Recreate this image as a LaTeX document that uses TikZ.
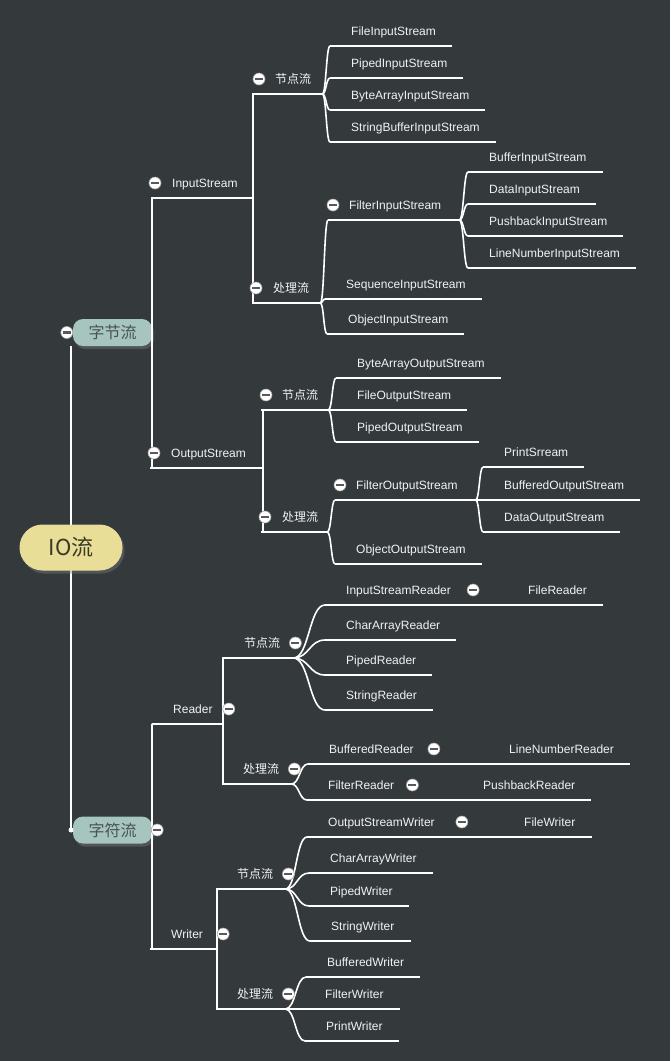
\documentclass[tikz,border=0pt]{standalone}
\usepackage{fontspec}
\setmainfont{Liberation Sans}
\newfontfamily\cjk{Noto Sans CJK SC}
\usetikzlibrary{calc,shadows}

\definecolor{canvas}{HTML}{34393C}
\definecolor{ink}{HTML}{F2F2F2}
\definecolor{rootfill}{HTML}{E9DE97}
\definecolor{rootink}{HTML}{3A3A28}
\definecolor{mainfill}{HTML}{A5C5BE}
\definecolor{mainink}{HTML}{4A5252}

\tikzset{
  wire/.style={draw=white, line width=1.6pt},
  topic/.style={text=ink, font=\fontsize{12}{14}\selectfont, inner sep=0pt, anchor=base west, yshift=-4.3pt},
  zh/.style={topic, font=\cjk\fontsize{12}{14}\selectfont},
  branch/.style={wire, to path={let \p1=(\tikztostart), \p2=(\tikztotarget), \n1={(\x2-\x1)/2} in
    .. controls (\x1+\n1*1pt,\y1) and (\x2-\n1*1pt,\y2) .. (\tikztotarget)}},
  fold/.style={circle, fill=white, draw=gray!70, line width=0.6pt, minimum size=12pt, inner sep=0pt,
    path picture={\draw[line width=2.2pt, draw=black!65] ([xshift=-4pt]path picture bounding box.center) -- ([xshift=4pt]path picture bounding box.center);}},
  pill/.style={rounded corners=10pt, fill=mainfill, text=mainink, minimum width=79pt, minimum height=27pt, inner sep=0pt,
    font=\cjk\fontsize{16}{18}\selectfont, drop shadow={shadow xshift=2pt, shadow yshift=-3pt, opacity=.4}},
  rootpill/.style={pill, fill=rootfill, text=rootink, rounded corners=23pt, minimum width=103pt, minimum height=46pt,
    font=\cjk\fontsize{22}{26}\selectfont}
}

\begin{document}
\begin{tikzpicture}[x=1pt, y=-1pt]
  \useasboundingbox (0,0) rectangle (670,1061);
  \fill[canvas] (0,0) rectangle (670,1061);

  % main branches
  \node[pill] (zjl) at (112.5,332.5) {字节流};
  \node[pill] (zfl) at (112.5,830) {字符流};
  \coordinate (axis) at (71,547.5);
  \draw[wire, line width=2.2pt] (zjl.south west -| axis) -- (zfl.west -| axis);
  \fill[white] (zfl.west -| axis) circle (2.5pt);
  \node[rootpill] (io) at (axis) {IO流};

  % InputStream
  \node[topic] (is) at (172,183) {InputStream};
  \node[zh] (jd1) at (275,79) {节点流};
  \node[topic] (fis) at (351,31) {FileInputStream};
  \node[topic] (pis) at (351,63) {PipedInputStream};
  \node[topic] (bais) at (351,95) {ByteArrayInputStream};
  \node[topic] (sbis) at (351,127) {StringBufferInputStream};
  \node[zh] (cl1) at (273,288) {处理流};
  \node[topic] (filis) at (349,205) {FilterInputStream};
  \node[topic] (bis) at (489,157) {BufferInputStream};
  \node[topic] (dis) at (489,189) {DataInputStream};
  \node[topic] (pbis) at (489,221) {PushbackInputStream};
  \node[topic] (lnis) at (489,253) {LineNumberInputStream};
  \node[topic] (seqis) at (346,284) {SequenceInputStream};
  \node[topic] (ois) at (348,319) {ObjectInputStream};

  % OutputStream
  \node[topic] (os) at (171,453) {OutputStream};
  \node[zh] (jd2) at (282,395) {节点流};
  \node[topic] (baos) at (357,363) {ByteArrayOutputStream};
  \node[topic] (fos) at (357,395) {FileOutputStream};
  \node[topic] (pos) at (357,427) {PipedOutputStream};
  \node[zh] (cl2) at (282,517) {处理流};
  \node[topic] (filos) at (356,485) {FilterOutputStream};
  \node[topic] (prs) at (504,452) {PrintSrream};
  \node[topic] (bos) at (504,485) {BufferedOutputStream};
  \node[topic] (dos) at (504,517) {DataOutputStream};
  \node[topic] (oos) at (356,549) {ObjectOutputStream};

  % Reader
  \node[topic] (rd) at (173,709) {Reader};
  \node[zh] (jd3) at (244,643) {节点流};
  \node[topic] (isr) at (346,590) {InputStreamReader};
  \node[topic] (fr) at (528,590) {FileReader};
  \node[topic] (car) at (346,625) {CharArrayReader};
  \node[topic] (pr) at (346,660) {PipedReader};
  \node[topic] (sr) at (346,695) {StringReader};
  \node[zh] (cl3) at (243,769) {处理流};
  \node[topic] (br) at (329,749) {BufferedReader};
  \node[topic] (lnr) at (509,749) {LineNumberReader};
  \node[topic] (fir) at (328,785) {FilterReader};
  \node[topic] (pbr) at (483,785) {PushbackReader};

  % Writer
  \node[topic] (wr) at (171,934) {Writer};
  \node[zh] (jd4) at (237,874) {节点流};
  \node[topic] (osw) at (328,822) {OutputStreamWriter};
  \node[topic] (fw) at (524,822) {FileWriter};
  \node[topic] (caw) at (330,858) {CharArrayWriter};
  \node[topic] (pw) at (330,891) {PipedWriter};
  \node[topic] (sw) at (331,926) {StringWriter};
  \node[zh] (cl4) at (237,994) {处理流};
  \node[topic] (bw) at (327,962) {BufferedWriter};
  \node[topic] (fiw) at (325,994) {FilterWriter};
  \node[topic] (prw) at (326,1026) {PrintWriter};

  % underlines
  \foreach \n/\p in {is/15, jd1/11, fis/16, pis/16, bais/16, sbis/16, cl1/11, filis/18, bis/16, dis/16,
      pbis/16, lnis/16, seqis/16, ois/16, os/17, jd2/10, baos/16, fos/16, pos/16, cl2/9, filos/18,
      prs/16, bos/16, dos/16, oos/16, rd/10, jd3/13, isr/16, fr/16, car/16, pr/16, sr/16, cl3/12,
      br/16, lnr/16, fir/16, pbr/16, wr/14, jd4/12, osw/16, fw/16, caw/16, pw/16, sw/16, cl4/12,
      bw/16, fiw/16, prw/16} {
    \coordinate (\n-in) at ($(\n.base west)+(-21,10.7)$);
    \coordinate (\n-out) at ($(\n.base east)+(\p,10.7)$);
    \draw[wire] (\n-in) -- (\n-out);
  }

  % elbows
  \draw[wire] (zjl.east) |- (is-in) (zjl.east) |- (os-in)
    (is-out) |- (jd1-in) (is-out) |- (cl1-in)
    (os-out) |- (jd2-in) (os-out) |- (cl2-in)
    (zfl.east) |- (rd-in) (zfl.east) |- (wr-in)
    (rd-out) |- (jd3-in) (rd-out) |- (cl3-in)
    (wr-out) |- (jd4-in) (wr-out) |- (cl4-in);

  % curves
  \path[branch]
    (jd1-out) edge (fis-in) edge (pis-in) edge (bais-in) edge (sbis-in)
    (cl1-out) edge (filis-in) edge (seqis-in) edge (ois-in)
    (filis-out) edge (bis-in) edge (dis-in) edge (pbis-in) edge (lnis-in)
    (jd2-out) edge (baos-in) edge (fos-in) edge (pos-in)
    (cl2-out) edge (filos-in) edge (oos-in)
    (filos-out) edge (prs-in) edge (bos-in) edge (dos-in)
    (jd3-out) edge (isr-in) edge (car-in) edge (pr-in) edge (sr-in)
    (isr-out) edge (fr-in)
    (cl3-out) edge (br-in) edge (fir-in)
    (br-out) edge (lnr-in)
    (fir-out) edge (pbr-in)
    (jd4-out) edge (osw-in) edge (caw-in) edge (pw-in) edge (sw-in)
    (osw-out) edge (fw-in)
    (cl4-out) edge (bw-in) edge (fiw-in) edge (prw-in);

  % fold buttons
  \node[fold] (zjl-f) at ($(zjl.west)+(-6,0)$) {};
  \node[fold] (zfl-f) at ($(zfl.east)+(5,0)$) {};
  \foreach \n/\d in {is/-17, jd1/-16, cl1/-17, filis/-16, os/-17, jd2/-16, cl2/-17, filos/-16}
    \node[fold] (\n-f) at ($(\n.base west)+(\d,-4.3)$) {};
  \foreach \n/\d in {rd/16, jd3/15, cl3/15, isr/22, br/20, fir/18, wr/20, jd4/15, cl4/15, osw/27}
    \node[fold] (\n-f) at ($(\n.base east)+(\d,-4.3)$) {};
\end{tikzpicture}
\end{document}
